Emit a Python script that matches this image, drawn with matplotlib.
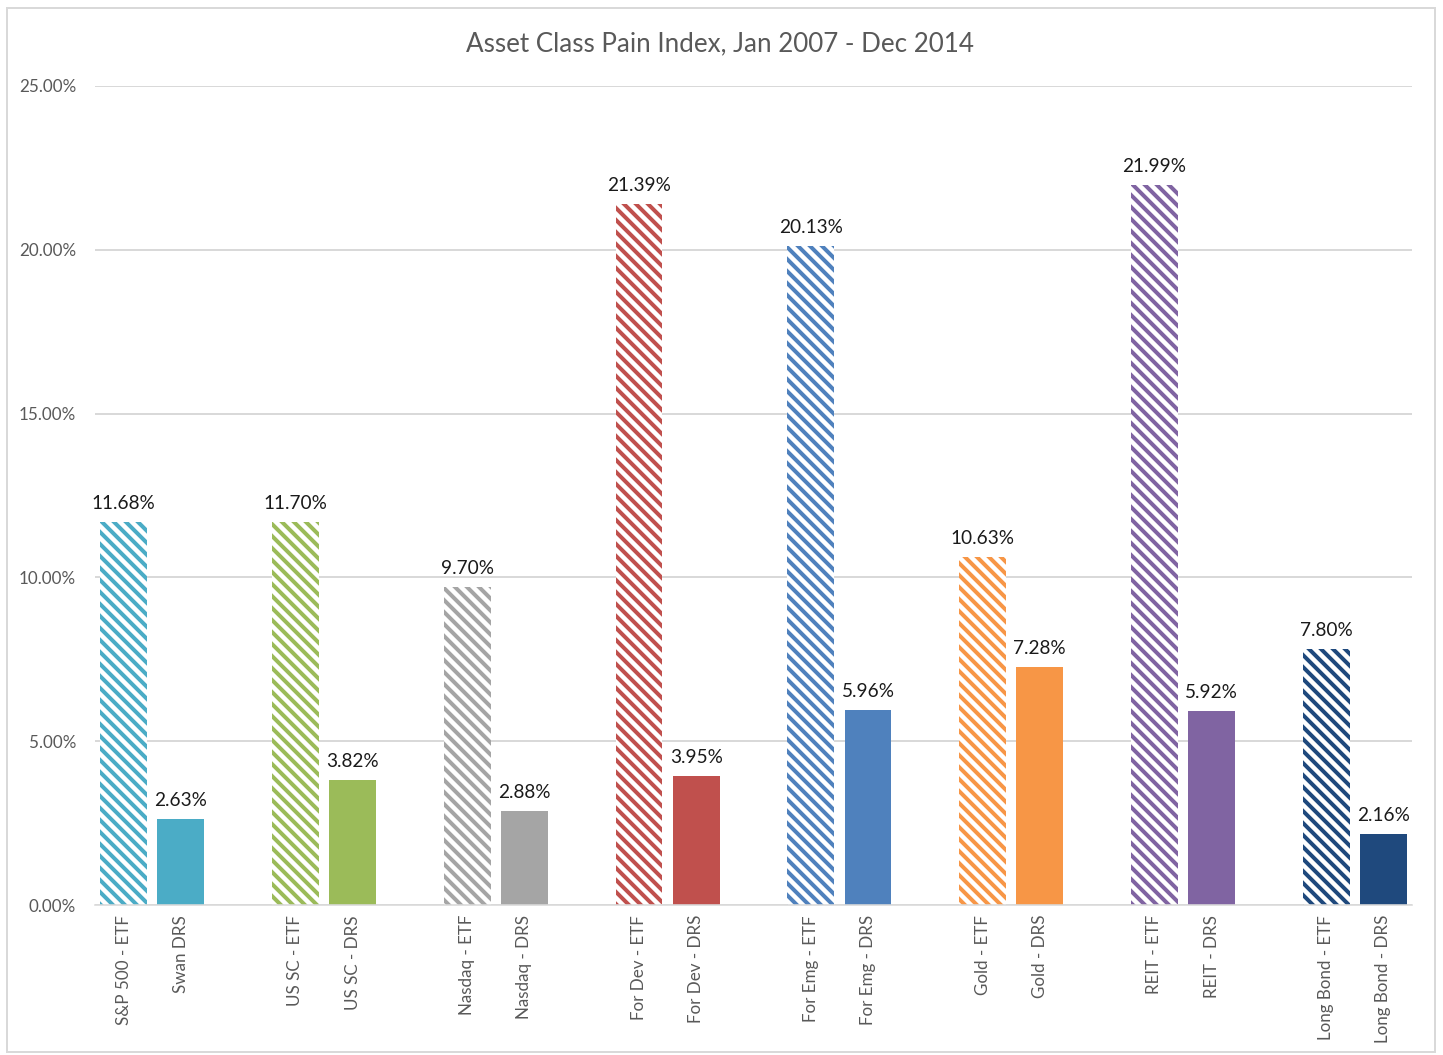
import matplotlib
matplotlib.use("Agg")
import matplotlib.pyplot as plt
from matplotlib.patches import Rectangle
from matplotlib.ticker import FuncFormatter

plt.rcParams["font.family"] = ["Lato", "DejaVu Sans"]
plt.rcParams["hatch.linewidth"] = 2.0

groups = ["S&P 500", "US SC", "Nasdaq", "For Dev", "For Emg", "Gold", "REIT", "Long Bond"]
etf_labels = ["S&P 500 - ETF", "US SC - ETF", "Nasdaq - ETF", "For Dev - ETF",
              "For Emg - ETF", "Gold - ETF", "REIT - ETF", "Long Bond - ETF"]
drs_labels = ["Swan DRS", "US SC - DRS", "Nasdaq - DRS", "For Dev - DRS",
              "For Emg - DRS", "Gold - DRS", "REIT - DRS", "Long Bond - DRS"]
etf_values = [11.68, 11.70, 9.70, 21.39, 20.13, 10.63, 21.99, 7.80]
drs_values = [2.63, 3.82, 2.88, 3.95, 5.96, 7.28, 5.92, 2.16]
colors = ["#4BACC6", "#9BBB59", "#A5A5A5", "#C0504D",
          "#4F81BD", "#F79646", "#8064A2", "#1F497D"]

fig = plt.figure(figsize=(1443 / 144, 1055 / 144), dpi=144)
ax = fig.add_axes([95 / 1443, 1 - 905 / 1055, (1412 - 95) / 1443, (905 - 86) / 1055])

# frame around the whole chart
fig.patches.append(Rectangle((7 / 1443, 3 / 1055), (1435 - 7) / 1443, (1047 - 3) / 1055,
                             transform=fig.transFigure, fill=False,
                             edgecolor="#D9D9D9", linewidth=1.0))

width = 0.82
xticks, xlabels = [], []
for i in range(len(groups)):
    x_etf = i * 3
    x_drs = i * 3 + 1
    ax.bar(x_etf, etf_values[i] / 100, width=width, facecolor="white",
           edgecolor=colors[i], linewidth=0, hatch="\\\\\\\\")
    ax.bar(x_drs, drs_values[i] / 100, width=width, color=colors[i], linewidth=0)
    for x, v in ((x_etf, etf_values[i]), (x_drs, drs_values[i])):
        ax.annotate(f"{v:.2f}%", (x, v / 100), xytext=(0, 5), textcoords="offset points",
                    ha="center", va="bottom", fontsize=9.5, color="#1a1a1a")
    xticks += [x_etf, x_drs]
    xlabels += [etf_labels[i], drs_labels[i]]

ax.set_xlim(-0.5, 22.5)
ax.set_ylim(0, 0.25)
ax.set_yticks([0, 0.05, 0.10, 0.15, 0.20, 0.25])
ax.yaxis.set_major_formatter(FuncFormatter(lambda v, _: f"{v * 100:.2f}%"))
ax.set_xticks(xticks)
ax.set_xticklabels(xlabels, rotation=90, va="top", ha="center")
ax.tick_params(axis="x", length=0, pad=5, labelsize=8.5, labelcolor="#595959")
ax.tick_params(axis="y", length=0, pad=9.5, labelsize=8.5, labelcolor="#595959")

ax.grid(axis="y", color="#D9D9D9", linewidth=1.0)
ax.set_axisbelow(True)
for s in ("top", "right", "left"):
    ax.spines[s].set_visible(False)
ax.spines["bottom"].set_color("#D9D9D9")

fig.text(720 / 1443, 1 - 44 / 1055, "Asset Class Pain Index, Jan 2007 - Dec 2014",
         ha="center", va="center", fontsize=13, color="#595959")

fig.savefig("out.png", dpi=144)
